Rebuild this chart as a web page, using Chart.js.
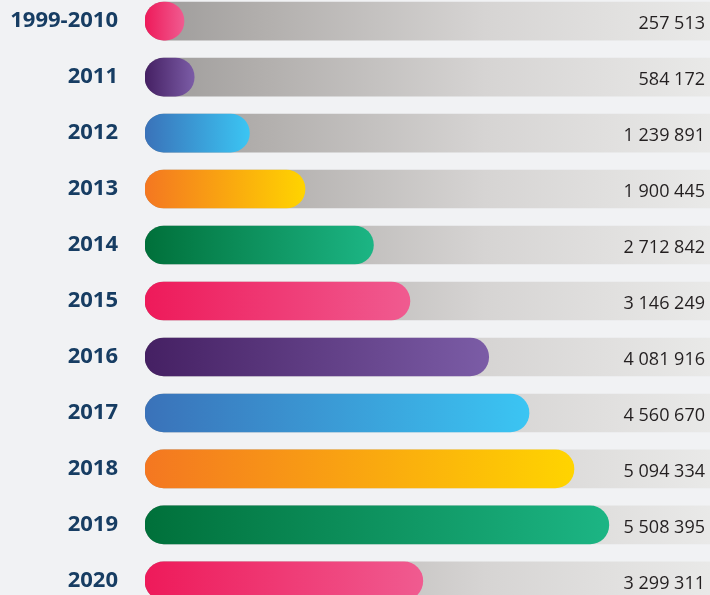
<!DOCTYPE html>
<html>
<head>
<meta charset="utf-8">
<script src="https://cdn.jsdelivr.net/npm/chart.js@4/dist/chart.umd.min.js"></script>
<style>
  html, body { margin: 0; padding: 0; background: #f1f2f4; overflow: hidden; }
  body { width: 710px; height: 595px; position: relative; }
  #myChart { position: absolute; left: 0; top: -7px; }
</style>
</head>
<body>
<canvas id="myChart" width="710" height="616"></canvas>
<script>
const years = ['1999-2010', '2011', '2012', '2013', '2014', '2015', '2016', '2017', '2018', '2019', '2020'];
const values = [257513, 584172, 1239891, 1900445, 2712842, 3146249, 4081916, 4560670, 5094334, 5508395, 3299311];
const xMax = 6710000;

// left -> right gradient stops, cycling down the rows
const palettes = [
    ['#ee1a5a', '#f05b90'],
    ['#452063', '#7b5ca6'],
    ['#3a72b9', '#3bc5f3'],
    ['#f47721', '#ffd400'],
    ['#00703a', '#1cb584']
];

function fmt(v) {
    return String(v).replace(/\B(?=(\d{3})+(?!\d))/g, ' ');
}

function barColor(ctx) {
    const chart = ctx.chart;
    const pal = palettes[ctx.dataIndex % palettes.length];
    if (!chart.chartArea) return pal[0];
    const xs = chart.scales.x;
    const x0 = xs.getPixelForValue(0);
    const x1 = Math.max(xs.getPixelForValue(values[ctx.dataIndex]), x0 + 39);
    const g = chart.ctx.createLinearGradient(x0, 0, x1, 0);
    g.addColorStop(0, pal[0]);
    g.addColorStop(1, pal[1]);
    return g;
}

function trackColor(ctx) {
    const chart = ctx.chart;
    const area = chart.chartArea;
    if (!area) return '#cccccc';
    const g = chart.ctx.createLinearGradient(area.left, 0, area.right, 0);
    g.addColorStop(0, '#9c9a99');
    g.addColorStop(0.2, '#b1aeac');
    g.addColorStop(0.6, '#d6d4d3');
    g.addColorStop(1, '#e9e9e8');
    return g;
}

const valueLabels = {
    id: 'valueLabels',
    afterDatasetsDraw(chart) {
        const c = chart.ctx;
        const ys = chart.scales.y;
        c.save();
        c.font = '18px "Open Sans"';
        c.fillStyle = '#231f20';
        c.textAlign = 'right';
        c.textBaseline = 'middle';
        values.forEach((v, i) => {
            c.fillText(fmt(v), chart.chartArea.right - 5, ys.getPixelForValue(i) + 3);
        });
        c.restore();
    }
};

const config = {
    type: 'bar',
    data: {
        labels: years,
        datasets: [{
            label: 'value',
            data: values,
            backgroundColor: barColor,
            borderWidth: 0,
            borderRadius: 19,
            borderSkipped: false,
            minBarLength: 39,
            barThickness: 38,
            grouped: false,
            order: 1
        }, {
            label: 'track',
            data: values.map(() => xMax),
            backgroundColor: trackColor,
            borderWidth: 0,
            borderRadius: {topLeft: 19, bottomLeft: 19, topRight: 0, bottomRight: 0},
            borderSkipped: false,
            barThickness: 38,
            grouped: false,
            order: 2
        }]
    },
    options: {
        indexAxis: 'y',
        responsive: false,
        animation: false,
        layout: {padding: 0},
        plugins: {
            legend: {display: false},
            tooltip: {enabled: false}
        },
        scales: {
            x: {
                display: false,
                min: 0,
                max: xMax
            },
            y: {
                // tick length (hidden) gives the gap to the bars without padding the axis ends
                grid: {display: false, drawTicks: true, tickLength: 27},
                border: {display: false},
                ticks: {
                    color: '#173d63',
                    padding: 0,
                    font: {family: '"Open Sans"', size: 22, weight: 'bold', lineHeight: 0.01}
                },
                afterFit(scale) {
                    scale.width = 145;
                }
            }
        }
    },
    plugins: [valueLabels]
};

const myChart = new Chart(document.getElementById('myChart'), config);
</script>
</body>
</html>
